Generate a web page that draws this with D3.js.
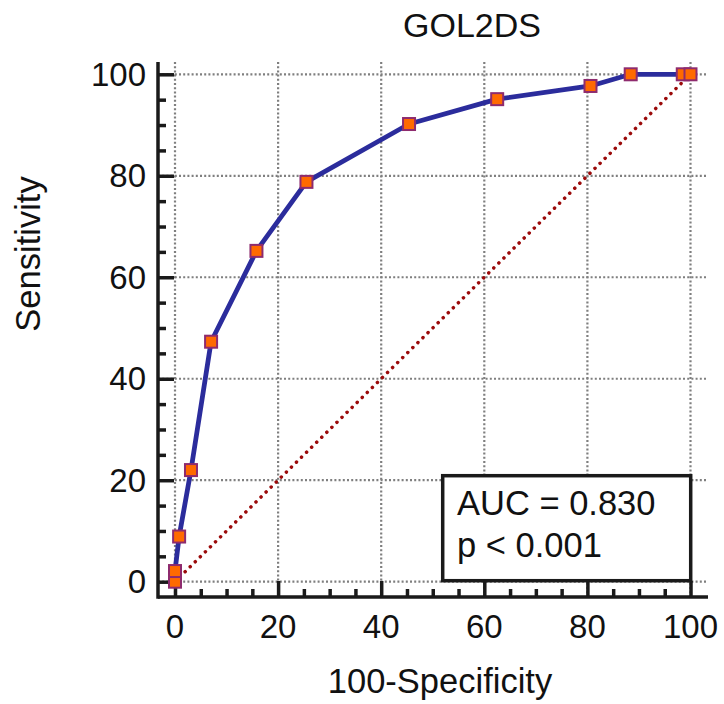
<!DOCTYPE html>
<html>
<head>
<meta charset="utf-8">
<script src="https://cdn.jsdelivr.net/npm/d3@7"></script>
<style>
  html, body { margin: 0; padding: 0; background: #fff; }
  svg { display: block; }
  text { font-family: "Liberation Sans", Arial, sans-serif; fill: #111; }
</style>
</head>
<body>
<svg id="chart" width="724" height="704"></svg>
<script>
// ROC curve points for GOL2DS (100-Specificity vs Sensitivity, %)
const fpr = [0, 0, 0.8, 3.1, 7.0, 15.8, 25.5, 45.4, 62.5, 80.6, 88.4, 98.5, 100];
const tpr = [0, 2.1, 8.9, 22.0, 47.3, 65.2, 78.8, 90.2, 95.1, 97.7, 100, 100, 100];
const majorTicks = [0, 20, 40, 60, 80, 100];
const minorTicks = d3.range(0, 101, 5).filter(v => v % 20 !== 0);
const titleText = "GOL2DS";
const xLabel = "100-Specificity";
const yLabel = "Sensitivity";
const statLines = ["AUC = 0.830", "p < 0.001"];

const svg = d3.select("#chart");
const x = d3.scaleLinear().domain([0, 100]).range([175, 690.5]);
const y = d3.scaleLinear().domain([0, 100]).range([581.7, 74.3]);

const frame = { left: 158, right: 708, top: 62, bottom: 597 };

// dotted grid
const grid = svg.append("g")
  .attr("stroke", "#7f7f7f").attr("stroke-width", 2.2)
  .attr("stroke-dasharray", "2,2.2");
grid.selectAll("line.v").data(majorTicks).join("line").attr("class", "v")
  .attr("x1", d => x(d)).attr("x2", d => x(d))
  .attr("y1", frame.top).attr("y2", frame.bottom);
grid.selectAll("line.h").data(majorTicks).join("line").attr("class", "h")
  .attr("y1", d => y(d)).attr("y2", d => y(d))
  .attr("x1", frame.left).attr("x2", frame.right);

// axes: ticks point into the plot
const xAxis = d3.axisTop(x).tickValues(majorTicks).tickSize(16).tickFormat("");
const xMinor = d3.axisTop(x).tickValues(minorTicks).tickSize(8).tickFormat("");
const yAxis = d3.axisRight(y).tickValues(majorTicks).tickSize(16).tickFormat("");
const yMinor = d3.axisRight(y).tickValues(minorTicks).tickSize(8).tickFormat("");

function styleAxis(g) {
  g.select(".domain").remove();
  g.selectAll(".tick line").attr("stroke", "#1a1a1a").attr("stroke-width", 3.5);
}
svg.append("g").attr("transform", `translate(0,${frame.bottom})`).call(xAxis).call(styleAxis);
svg.append("g").attr("transform", `translate(0,${frame.bottom})`).call(xMinor).call(styleAxis);
svg.append("g").attr("transform", `translate(${frame.left},0)`).call(yAxis).call(styleAxis);
svg.append("g").attr("transform", `translate(${frame.left},0)`).call(yMinor).call(styleAxis);

svg.append("line").attr("x1", frame.left).attr("x2", frame.right)
  .attr("y1", frame.bottom).attr("y2", frame.bottom)
  .attr("stroke", "#1a1a1a").attr("stroke-width", 3.5);
svg.append("line").attr("x1", frame.left).attr("x2", frame.left)
  .attr("y1", frame.top).attr("y2", frame.bottom + 1.75)
  .attr("stroke", "#1a1a1a").attr("stroke-width", 3.5);

// tick labels
svg.append("g").selectAll("text").data(majorTicks).join("text")
  .attr("x", d => x(d)).attr("y", 638)
  .attr("text-anchor", "middle").attr("font-size", 33)
  .text(d => d);
svg.append("g").selectAll("text").data(majorTicks).join("text")
  .attr("x", 146).attr("y", d => y(d) + 11.5)
  .attr("text-anchor", "end").attr("font-size", 33)
  .text(d => d);

// reference diagonal
svg.append("line")
  .attr("x1", x(0)).attr("y1", y(0)).attr("x2", x(100)).attr("y2", y(100))
  .attr("stroke", "#9b0a0a").attr("stroke-width", 3.5)
  .attr("stroke-linecap", "round").attr("stroke-dasharray", "0.1,7");

// ROC curve
const pts = fpr.map((v, i) => [v, tpr[i]]);
svg.append("path").datum(pts)
  .attr("fill", "none").attr("stroke", "#2b2c9c").attr("stroke-width", 4.8)
  .attr("stroke-linejoin", "round")
  .attr("d", d3.line().x(d => x(d[0])).y(d => y(d[1])));

const ms = 12;
svg.append("g").selectAll("rect").data(pts).join("rect")
  .attr("x", d => x(d[0]) - ms / 2).attr("y", d => y(d[1]) - ms / 2)
  .attr("width", ms).attr("height", ms)
  .attr("fill", "#ff6a00").attr("stroke", "#8e2b6e").attr("stroke-width", 2);

// statistics box
svg.append("rect").attr("x", 442.7).attr("y", 475.7).attr("width", 248).attr("height", 105)
  .attr("fill", "#fff").attr("stroke", "#1a1a1a").attr("stroke-width", 3.5);
svg.append("g").selectAll("text").data(statLines).join("text")
  .attr("x", 457).attr("y", (d, i) => 515 + i * 42)
  .attr("font-size", 34.5).text(d => d);

// titles
svg.append("text").attr("x", 472).attr("y", 37).attr("text-anchor", "middle")
  .attr("font-size", 34).text(titleText);
svg.append("text").attr("x", 440).attr("y", 693).attr("text-anchor", "middle")
  .attr("font-size", 34.5).text(xLabel);
svg.append("text").attr("transform", "translate(40,254) rotate(-90)")
  .attr("text-anchor", "middle").attr("font-size", 34.5).text(yLabel);
</script>
</body>
</html>
